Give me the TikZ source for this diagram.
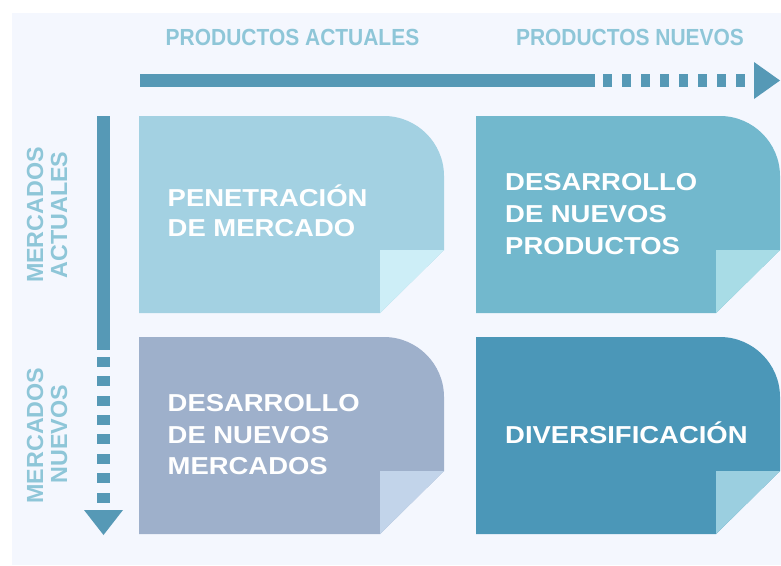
\documentclass[tikz,border=0pt]{standalone}
\usepackage{fontspec}
\setmainfont{Liberation Sans}
\newfontfamily\boxfont[FakeStretch=1.12]{Liberation Sans}
\newfontfamily\topfont[FakeStretch=0.9]{Liberation Sans}
\newfontfamily\sidefont{Liberation Sans}
\definecolor{bgc}{HTML}{F4F7FE}
\definecolor{arrowc}{HTML}{5699B6}
\definecolor{labelc}{HTML}{8EC6D8}
\definecolor{boxA}{HTML}{A3D1E2}
\definecolor{foldA}{HTML}{CDEEF7}
\definecolor{boxB}{HTML}{72B8CD}
\definecolor{foldB}{HTML}{A8DCE6}
\definecolor{boxC}{HTML}{9EB0CB}
\definecolor{foldC}{HTML}{C2D4EA}
\definecolor{boxD}{HTML}{4B97B8}
\definecolor{foldD}{HTML}{9BCFE0}
\tikzset{
  boxtext/.style={text=white, inner sep=0pt, anchor=base west, font=\boxfont\bfseries\fontsize{24.5}{30}\selectfont},
  toplabel/.style={text=labelc, inner sep=0pt, anchor=base, font=\topfont\bfseries\fontsize{23.3}{28}\selectfont},
  sidelabel/.style={text=labelc, inner sep=0pt, anchor=base, rotate=90, font=\sidefont\bfseries\fontsize{23.3}{28}\selectfont},
  arrowfill/.style={fill=arrowc, draw=none}
}
\begin{document}
\begin{tikzpicture}[x=1pt,y=-1pt]
\useasboundingbox (0,0) rectangle (781,565);
\fill[bgc] (12,13) rectangle (781,565);

% horizontal axis
\fill[arrowfill] (140,74) rectangle (595,87);
\foreach \i in {0,...,7} {
  \fill[arrowfill] ({602.7+19*\i},74) rectangle ({611.7+19*\i},87);
}
\fill[arrowfill] (754,62) -- (780,80.5) -- (754,99) -- cycle;

% vertical axis
\fill[arrowfill] (97,116) rectangle (110,350);
\foreach \i in {0,...,7} {
  \fill[arrowfill] (97,{356.7+19.4*\i}) rectangle (110,{366.7+19.4*\i});
}
\fill[arrowfill] (84,510) -- (123,510) -- (103.5,535) -- cycle;

% boxes
\fill[boxA] (139,116) -- (384,116) .. controls (417,116) and (444,143) .. (444,176) -- (444,250) -- (380,313) -- (139,313) -- cycle;
\fill[foldA] (380,250) -- (444,250) -- (380,313) -- cycle;
\fill[boxB] (476,116) -- (720,116) .. controls (753,116) and (780,143) .. (780,176) -- (780,250) -- (716,313) -- (476,313) -- cycle;
\fill[foldB] (716,250) -- (780,250) -- (716,313) -- cycle;
\fill[boxC] (139,337) -- (384,337) .. controls (417,337) and (444,364) .. (444,397) -- (444,471) -- (380,534) -- (139,534) -- cycle;
\fill[foldC] (380,471) -- (444,471) -- (380,534) -- cycle;
\fill[boxD] (476,337) -- (720,337) .. controls (753,337) and (780,364) .. (780,397) -- (780,471) -- (716,534) -- (476,534) -- cycle;
\fill[foldD] (716,471) -- (780,471) -- (716,534) -- cycle;

% labels
\node[toplabel] (pa) at (292.5,45) {PRODUCTOS ACTUALES};
\node[toplabel] (pn) at (630,45) {PRODUCTOS NUEVOS};
\node[sidelabel] (ma1) at (43,215) {MERCADOS};
\node[sidelabel] (ma2) at (67,215) {ACTUALES};
\node[sidelabel] (mn1) at (43,435.5) {MERCADOS};
\node[sidelabel] (mn2) at (67,434) {NUEVOS};

% box texts
\node[boxtext] (t1a) at (167.5,206) {PENETRACIÓN};
\node[boxtext] (t1b) at (167.5,236.5) {DE MERCADO};
\node[boxtext] (t2a) at (505,190.7) {DESARROLLO};
\node[boxtext] (t2b) at (505,222.3) {DE NUEVOS};
\node[boxtext] (t2c) at (505,254) {PRODUCTOS};
\node[boxtext] (t3a) at (167.5,411.5) {DESARROLLO};
\node[boxtext] (t3b) at (167.5,443.5) {DE NUEVOS};
\node[boxtext] (t3c) at (167.5,474.5) {MERCADOS};
\node[boxtext] (t4a) at (505,443) {DIVERSIFICACIÓN};
\end{tikzpicture}
\end{document}
